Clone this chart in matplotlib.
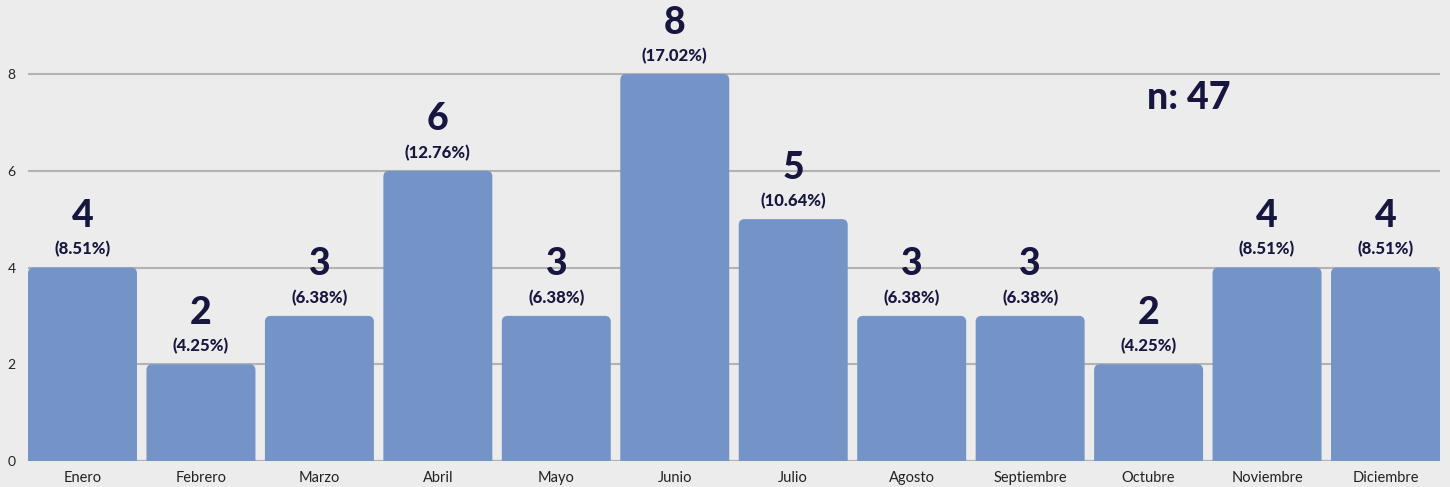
import matplotlib.pyplot as plt
from matplotlib.patches import FancyBboxPatch

meses = ['Enero', 'Febrero', 'Marzo', 'Abril', 'Mayo', 'Junio', 'Julio',
         'Agosto', 'Septiembre', 'Octubre', 'Noviembre', 'Diciembre']
casos = [4, 2, 3, 6, 3, 8, 5, 3, 3, 2, 4, 4]
porcentajes = ['8.51%', '4.25%', '6.38%', '12.76%', '6.38%', '17.02%', '10.64%',
               '6.38%', '6.38%', '4.25%', '8.51%', '8.51%']
total = 47

bg = '#ececec'
bar_color = '#7494c8'
dark = '#16163f'

plt.rcParams['font.family'] = ['Lato', 'DejaVu Sans']

fig = plt.figure(figsize=(14.5, 4.87), dpi=100, facecolor=bg)
ax = fig.add_axes([28 / 1450, 26 / 487, 1412 / 1450, 461 / 487])
ax.set_facecolor(bg)

x = range(len(meses))
bars = ax.bar(x, casos, width=0.92, color=bar_color, zorder=3)

# replace plain rectangles with slightly rounded ones (bottom hidden below 0)
for b in bars:
    b.set_visible(False)
    p = FancyBboxPatch((b.get_x(), -0.3), b.get_width(), b.get_height() + 0.3,
                       boxstyle='round,pad=0,rounding_size=0.05',
                       mutation_aspect=2.44, fc=bar_color, ec='none', zorder=3)
    ax.add_patch(p)

for i, (v, pct) in enumerate(zip(casos, porcentajes)):
    ax.annotate(str(v), (i, v), xytext=(0, 37), textcoords='offset points',
                ha='center', va='center', fontsize=27, fontweight='black', color=dark)
    ax.annotate(f'({pct})', (i, v), xytext=(0, 13), textcoords='offset points',
                ha='center', va='center', fontsize=12, fontweight='black', color=dark)

ax.text(9.34, 7.5, f'n: {total}', ha='center', va='center', fontsize=27,
        fontweight='black', color=dark)

ax.set_xlim(-0.46, 11.46)
ax.set_ylim(0, 9.53)
ax.set_yticks([0, 2, 4, 6, 8])
ax.set_xticks(list(x))
ax.set_xticklabels(meses, fontsize=10.5, color='#222222')
ax.tick_params(axis='y', labelsize=10, colors='#222222', length=0, pad=9)
ax.tick_params(axis='x', length=0, pad=7)
ax.yaxis.grid(True, color='#b3b3b3', linewidth=1.5, zorder=0)
for s in ax.spines.values():
    s.set_visible(False)
ax.axhline(0, color='#8a8a8a', linewidth=1.5, zorder=1)

fig.savefig('out.png', dpi=100, facecolor=bg)
